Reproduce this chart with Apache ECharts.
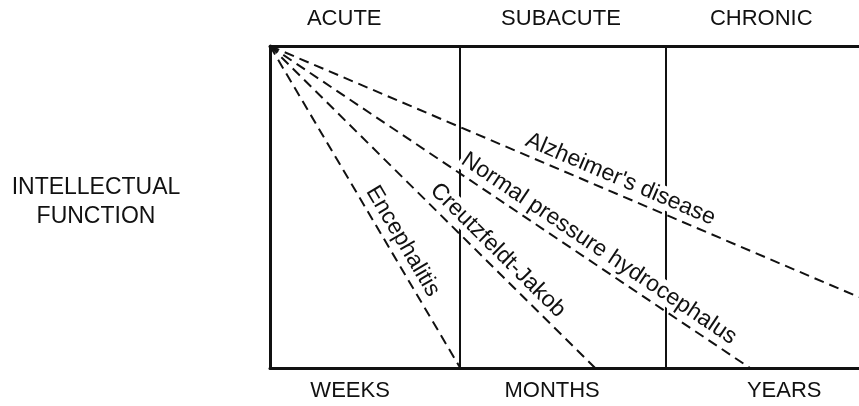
<!DOCTYPE html>
<html>
<head>
<meta charset="utf-8">
<script src="https://cdn.jsdelivr.net/npm/echarts@6/dist/echarts.min.js"></script>
<style>
  html, body { margin: 0; padding: 0; background: #fff; }
  #chart { width: 859px; height: 406px; }
</style>
</head>
<body>
<div id="chart"></div>
<script>
// time course of intellectual decline, x = time (0-100), y = function (0-100)
const phases = ['ACUTE', 'SUBACUTE', 'CHRONIC'];
const timescales = ['WEEKS', 'MONTHS', 'YEARS'];
const dividers = [32.3, 67.2];
const diseases = ['Encephalitis', 'Creutzfeldt-Jakob', 'Normal pressure hydrocephalus', 'Alzheimer\'s disease'];
const startPoint = [0, 100];
const endX = [32.3, 55.2, 81.5, 100];
const endY = [0, 0, 0, 22];
const yLabel = ['INTELLECTUAL', 'FUNCTION'];

// layout only
const phaseLabelX = [12.6, 49.4, 83.4];
const scaleLabelX = [13.6, 47.9, 87.3];
const labelAt = [0.63, 0.668, 0.668, 0.585];
const labelOffset = 15;

const font = '"Liberation Sans", Arial, sans-serif';
const ink = '#111';

const chart = echarts.init(document.getElementById('chart'));

const series = diseases.map((name, i) => ({
  name: name,
  type: 'line',
  data: [startPoint, [endX[i], endY[i]]],
  showSymbol: false,
  symbol: 'none',
  animation: false,
  lineStyle: { color: ink, width: 2, type: [10, 6] },
  z: 3,
}));

series.push({
  type: 'line',
  data: [],
  animation: false,
  markLine: {
    silent: true,
    symbol: 'none',
    label: { show: false },
    lineStyle: { color: ink, width: 2, type: 'solid' },
    data: dividers.map(x => ({ xAxis: x })),
  },
  z: 2,
});

chart.setOption({
  animation: false,
  grid: { left: 270, right: 0, top: 46, bottom: 38 },
  xAxis: [
    {
      type: 'value', min: 0, max: 100, position: 'bottom',
      axisLine: { show: true, lineStyle: { color: ink, width: 3 } },
      axisTick: { show: false }, axisLabel: { show: false }, splitLine: { show: false },
    },
    {
      type: 'value', min: 0, max: 100, position: 'top',
      axisLine: { show: true, lineStyle: { color: ink, width: 3 } },
      axisTick: { show: false }, axisLabel: { show: false }, splitLine: { show: false },
    },
  ],
  yAxis: {
    type: 'value', min: 0, max: 100,
    axisLine: { show: true, lineStyle: { color: ink, width: 3 } },
    axisTick: { show: false }, axisLabel: { show: false }, splitLine: { show: false },
  },
  series: series,
});

// text placed through the chart's own scales
const graphics = [];
const textStyle = (text, size) => ({
  text: text, fill: ink, fontFamily: font, fontSize: size,
  align: 'center', verticalAlign: 'middle',
});

phases.forEach((p, i) => {
  const [px] = chart.convertToPixel({ gridIndex: 0 }, [phaseLabelX[i], 100]);
  graphics.push({ type: 'text', x: px, y: 19, style: textStyle(p, 22), z: 100 });
});
timescales.forEach((t, i) => {
  const [px] = chart.convertToPixel({ gridIndex: 0 }, [scaleLabelX[i], 0]);
  graphics.push({ type: 'text', x: px, y: 391, style: textStyle(t, 22), z: 100 });
});
yLabel.forEach((t, i) => {
  graphics.push({ type: 'text', x: 96, y: 188 + i * 29, style: textStyle(t, 23), z: 100 });
});

diseases.forEach((name, i) => {
  const a = chart.convertToPixel({ gridIndex: 0 }, startPoint);
  const b = chart.convertToPixel({ gridIndex: 0 }, [endX[i], endY[i]]);
  const dx = b[0] - a[0], dy = b[1] - a[1];
  const len = Math.sqrt(dx * dx + dy * dy);
  const nx = dy / len, ny = -dx / len;
  const t = labelAt[i];
  graphics.push({
    type: 'text',
    x: a[0] + dx * t + nx * labelOffset,
    y: a[1] + dy * t + ny * labelOffset,
    rotation: -Math.atan2(dy, dx),
    style: Object.assign(textStyle(name, 23), { backgroundColor: '#fff', padding: [0, 2] }),
    z: 100,
  });
});

chart.setOption({ graphic: graphics });
</script>
</body>
</html>
